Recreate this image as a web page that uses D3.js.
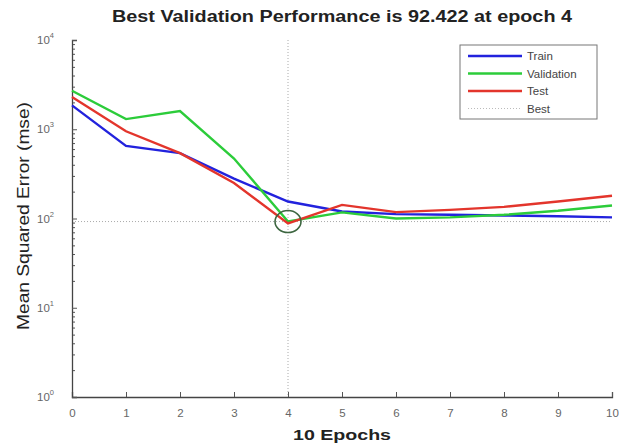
<!DOCTYPE html>
<html>
<head>
<meta charset="utf-8">
<script src="https://cdn.jsdelivr.net/npm/d3@7"></script>
<style>
    body { margin: 0; background: #fff; }
    text { font-family: "Liberation Sans", Arial, sans-serif; }
</style>
</head>
<body>
<div id="chart"></div>
<script>
// values
var epochs = [0, 1, 2, 3, 4, 5, 6, 7, 8, 9, 10];
var train = [1850, 650, 540, 280, 155, 120, 112, 110, 108, 106, 103];
var validation = [2700, 1300, 1600, 470, 92.422, 117, 100, 103, 110, 122, 140];
var test = [2300, 950, 540, 250, 88, 142, 118, 125, 135, 155, 180];
var bestEpoch = 4;
var bestValue = 92.422;
var xTicks = [0, 1, 2, 3, 4, 5, 6, 7, 8, 9, 10];
var yTicks = [1, 10, 100, 1000, 10000];
var yTickExp = ["0", "1", "2", "3", "4"];
var legendNames = ["Train", "Validation", "Test", "Best"];

var width = 621, height = 445;
var margin = {top: 40, right: 9, bottom: 48, left: 72};

var svg = d3.select("#chart").append("svg")
    .attr("width", width)
    .attr("height", height);

var x = d3.scaleLinear().domain([0, 10]).range([margin.left, width - margin.right]);
var y = d3.scaleLog().domain([1, 10000]).range([height - margin.bottom, margin.top]);

// best lines (dotted)
svg.append("line")
    .attr("x1", x(bestEpoch)).attr("x2", x(bestEpoch))
    .attr("y1", y(10000)).attr("y2", y(1))
    .attr("stroke", "#aaa").attr("stroke-width", 1)
    .attr("stroke-dasharray", "1,2");
svg.append("line")
    .attr("x1", x(0)).attr("x2", x(10))
    .attr("y1", y(bestValue)).attr("y2", y(bestValue))
    .attr("stroke", "#aaa").attr("stroke-width", 1)
    .attr("stroke-dasharray", "1,2");

// axes
var xAxis = d3.axisBottom(x).tickValues(xTicks).tickSize(-5).tickPadding(12)
    .tickFormat(d3.format("d"));
var gx = svg.append("g")
    .attr("transform", "translate(0," + y(1) + ")")
    .call(xAxis);

var minor = [];
for (var e = 0; e < 4; e++) {
    for (var m = 2; m < 10; m++) minor.push(m * Math.pow(10, e));
}
svg.append("g")
    .attr("transform", "translate(" + x(0) + ",0)")
    .call(d3.axisLeft(y).tickValues(minor).tickSize(-3).tickFormat(""))
    .call(function (g) { g.select(".domain").remove(); });

var gy = svg.append("g")
    .attr("transform", "translate(" + x(0) + ",0)")
    .call(d3.axisLeft(y).tickValues(yTicks).tickSize(-5).tickFormat(""));

[gx, gy].forEach(function (g) {
    g.select(".domain").attr("stroke", "#444").attr("stroke-width", 1.3);
    g.selectAll(".tick text").attr("fill", "#666").style("font-size", "11.5px");
});
svg.selectAll(".tick line").attr("stroke", "#555");

// y labels as 10^n
var yl = svg.append("g");
yTicks.forEach(function (v, i) {
    var t = yl.append("text")
        .attr("x", x(0) - 18)
        .attr("y", y(v) + 4)
        .attr("text-anchor", "end")
        .attr("fill", "#666")
        .style("font-size", "11.5px");
    t.append("tspan").text("10");
    t.append("tspan").attr("dy", -6).style("font-size", "7.5px").text(yTickExp[i]);
});

// lines
var line = d3.line()
    .x(function (d, i) { return x(epochs[i]); })
    .y(function (d) { return y(d); });

var colors = ["#2222dd", "#2ccc3a", "#e3352c", "#bbb"];
var series = [train, validation, test];

series.forEach(function (s, i) {
    svg.append("path")
        .datum(s)
        .attr("d", line)
        .attr("fill", "none")
        .attr("stroke", colors[i])
        .attr("stroke-width", 2.4);
});

// best marker
svg.append("ellipse")
    .attr("cx", x(bestEpoch))
    .attr("cy", y(bestValue))
    .attr("rx", 13)
    .attr("ry", 11)
    .attr("fill", "none")
    .attr("stroke", "#3d6640")
    .attr("stroke-width", 1.6);

// title and labels
svg.append("text")
    .attr("x", 112).attr("y", 22)
    .attr("textLength", 460)
    .attr("lengthAdjust", "spacingAndGlyphs")
    .style("font-size", "16px").style("font-weight", "bold")
    .attr("fill", "#222")
    .text("Best Validation Performance is 92.422 at epoch 4");

svg.append("text")
    .attr("x", 293).attr("y", 440)
    .attr("textLength", 98)
    .attr("lengthAdjust", "spacingAndGlyphs")
    .style("font-size", "15px").style("font-weight", "bold")
    .attr("fill", "#222")
    .text("10 Epochs");

svg.append("text")
    .attr("transform", "translate(29,330) rotate(-90)")
    .attr("textLength", 228)
    .attr("lengthAdjust", "spacingAndGlyphs")
    .style("font-size", "16px")
    .attr("fill", "#222")
    .text("Mean Squared Error  (mse)");

// legend
var lg = svg.append("g").attr("transform", "translate(460,45)");
lg.append("rect")
    .attr("width", 137).attr("height", 74)
    .attr("fill", "#fff").attr("stroke", "#777").attr("stroke-width", 1);
legendNames.forEach(function (n, i) {
    var yy = 11 + i * 17.5;
    lg.append("line")
        .attr("x1", 8).attr("x2", 62)
        .attr("y1", yy).attr("y2", yy)
        .attr("stroke", colors[i])
        .attr("stroke-width", i < 3 ? 2.4 : 1)
        .attr("stroke-dasharray", i < 3 ? null : "1,2");
    lg.append("text")
        .attr("x", 67).attr("y", yy + 4)
        .style("font-size", "11.5px")
        .attr("fill", "#444")
        .text(n);
});
</script>
</body>
</html>
